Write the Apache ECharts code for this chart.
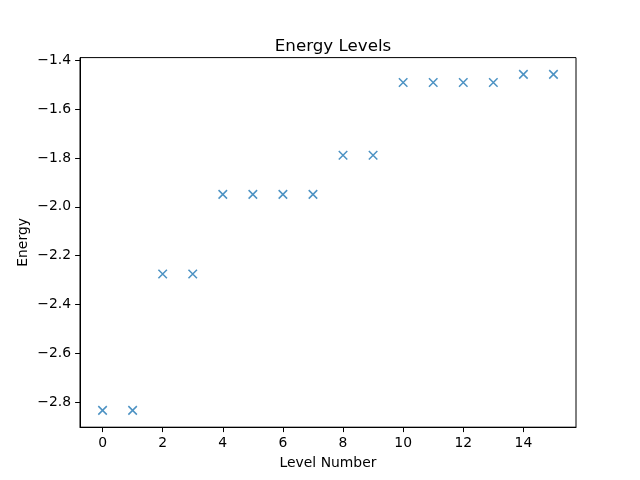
<!DOCTYPE html>
<html>
<head>
<meta charset="utf-8">
<script src="https://cdn.jsdelivr.net/npm/echarts@6/dist/echarts.min.js"></script>
<style>html,body{margin:0;padding:0;background:#fff}#c{width:640px;height:480px}</style>
</head>
<body>
<div id="c"></div>
<script>
const levels = [0,1,2,3,4,5,6,7,8,9,10,11,12,13,14,15];
const energies = [-2.833,-2.833,-2.275,-2.275,-1.949,-1.949,-1.949,-1.949,-1.789,-1.789,-1.491,-1.491,-1.491,-1.491,-1.458,-1.458];
const xTicks = [0,2,4,6,8,10,12,14];
const yTicks = [-2.8,-2.6,-2.4,-2.2,-2.0,-1.8,-1.6,-1.4];

const font = 'DejaVu Sans';
const chart = echarts.init(document.getElementById('c'), null, {renderer:'canvas'});
const yMinD = Math.min(...energies), yMaxD = Math.max(...energies);
const ym = (yMaxD - yMinD) * 0.05;
const xm = (levels[levels.length-1] - levels[0]) * 0.05;
const fmt = v => (v < 0 ? '\u2212' : '') + Math.abs(v).toFixed(1);
chart.setOption({
  animation:false,
  title:{text:'Energy Levels', left:328, top:33, textAlign:'center',
    textStyle:{fontFamily:font, fontSize:16.7, fontWeight:'normal', color:'#000'}},
  grid:{left:80, right:64, top:57.6, bottom:52.8, show:true, borderColor:'#000', borderWidth:1, backgroundColor:'transparent'},
  xAxis:{type:'value', min:levels[0]-xm, max:levels[levels.length-1]+xm,
    name:'Level Number', nameLocation:'middle', nameGap:29, nameMoveOverlap:false,
    nameTextStyle:{fontFamily:font, fontSize:13.9, color:'#000'},
    axisLine:{show:true, onZero:false, lineStyle:{color:'#000', width:1}},
    axisTick:{show:true, length:4.9, lineStyle:{color:'#000', width:1}, customValues:xTicks},
    axisLabel:{fontFamily:font, fontSize:13.9, color:'#000', margin:9, customValues:xTicks, formatter:v=>String(v)},
    splitLine:{show:false}},
  yAxis:{type:'value', min:yMinD-ym, max:yMaxD+ym,
    name:'Energy', nameLocation:'middle', nameGap:50, nameMoveOverlap:false,
    nameTextStyle:{fontFamily:font, fontSize:13.9, color:'#000'},
    axisLine:{show:true, onZero:false, lineStyle:{color:'#000', width:1}},
    axisTick:{show:true, length:4.9, lineStyle:{color:'#000', width:1}, customValues:yTicks},
    axisLabel:{fontFamily:font, fontSize:13.9, color:'#000', margin:9, customValues:yTicks, formatter:fmt},
    splitLine:{show:false}},
  series:[{type:'scatter', data:levels.map((x,i)=>[x, energies[i]]),
    symbol:'path://M0,0L10,10M10,0L0,10', symbolSize:8.5,
    itemStyle:{color:'none', borderColor:'#1f77b4', borderWidth:1.5}}]
});
</script>
</body>
</html>
